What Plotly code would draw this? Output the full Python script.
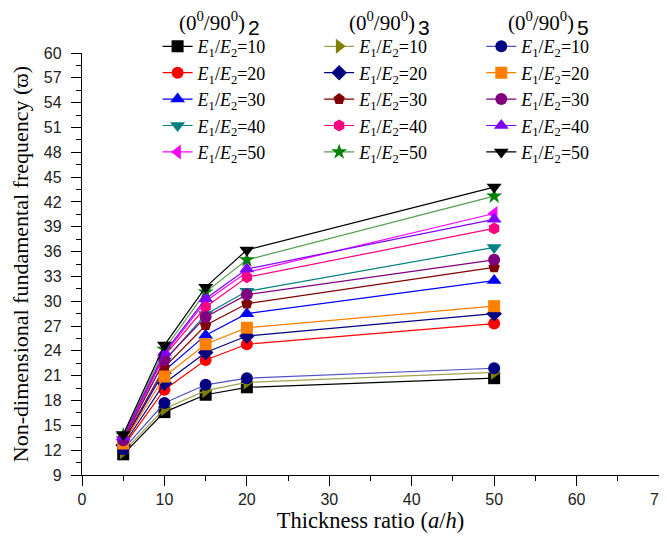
import plotly.graph_objects as go

x_ratio = [5, 10, 15, 20, 50]

# (0/90)2
L2_E10 = [11.5, 16.6, 18.7, 19.6, 20.7]
L2_E20 = [12.4, 19.3, 22.9, 24.8, 27.3]
L2_E30 = [12.9, 21.6, 25.9, 28.5, 32.5]
L2_E40 = [13.3, 22.8, 28.4, 31.2, 36.5]
L2_E50 = [13.6, 23.6, 30.0, 33.5, 40.6]
# (0/90)3
L3_E10 = [11.8, 17.0, 19.2, 20.2, 21.4]
L3_E20 = [12.6, 20.1, 23.8, 25.8, 28.5]
L3_E30 = [13.0, 22.0, 27.1, 29.7, 34.1]
L3_E40 = [13.4, 23.4, 29.3, 32.9, 38.8]
L3_E50 = [13.8, 24.2, 31.1, 35.0, 42.7]
# (0/90)5
L5_E10 = [12.1, 17.7, 19.9, 20.7, 21.9]
L5_E20 = [12.8, 20.9, 24.8, 26.8, 29.4]
L5_E30 = [13.2, 22.9, 28.1, 30.8, 35.0]
L5_E40 = [13.6, 23.8, 30.3, 33.9, 39.9]
L5_E50 = [13.9, 24.7, 31.7, 36.2, 43.8]

ratios = [10, 20, 30, 40, 50]
layer_counts = ["2", "3", "5"]
header_main = "(0<sup>0</sup>/90<sup>0</sup>)"

groups = [
    ("legend", [L2_E10, L2_E20, L2_E30, L2_E40, L2_E50],
     ["#000000", "#FF0000", "#0000FF", "#008080", "#FF00FF"],
     ["square", "circle", "triangle-up", "triangle-down", "triangle-left"]),
    ("legend2", [L3_E10, L3_E20, L3_E30, L3_E40, L3_E50],
     ["#808000", "#000080", "#800000", "#FF0080", "#008000"],
     ["triangle-right", "diamond", "pentagon", "hexagon", "star"]),
    ("legend3", [L5_E10, L5_E20, L5_E30, L5_E40, L5_E50],
     ["#000080", "#FF8000", "#800080", "#8000FF", "#000000"],
     ["circle", "square", "circle", "triangle-up", "triangle-down"]),
]
line_colors = {
    ("legend2", 0): "#a0a050", ("legend2", 4): "#50a050", ("legend3", 0): "#5050c0",
}

fig = go.Figure()
for gi, (leg, series, colors, symbols) in enumerate(groups):
    for i, (vals, col, sym) in enumerate(zip(series, colors, symbols)):
        lc = line_colors.get((leg, i), col)
        size = 13 if sym.startswith("triangle") else 12
        marker = dict(symbol=sym, size=size, color=col, line=dict(width=0))
        fig.add_trace(go.Scatter(
            x=x_ratio, y=vals, mode="lines+markers",
            name=f"<i>E</i><sub>1</sub>/<i>E</i><sub>2</sub>={ratios[i]}",
            line=dict(color=lc, width=1.2), marker=marker,
            legend=leg, legendgroup=f"{leg}_{i}",
        ))

serif = "Liberation Serif"
sans = "Liberation Sans"
leg_common = dict(font=dict(family=serif, size=18, color="#000"), bgcolor="rgba(0,0,0,0)",
                  traceorder="grouped", tracegroupgap=0, yanchor="top", xanchor="left",
                  itemwidth=30)
fig.update_layout(
    width=659, height=539,
    margin=dict(l=74, r=8, t=45, b=72, autoexpand=False),
    plot_bgcolor="white", paper_bgcolor="white",
    legend=dict(x=0.131, y=1.059, **leg_common),
    legend2=dict(x=0.411, y=1.059, **leg_common),
    legend3=dict(x=0.692, y=1.059, **leg_common),
    xaxis=dict(range=[0, 70], dtick=10, tick0=0, showgrid=False, zeroline=False,
               showline=True, linecolor="#000", linewidth=1.3, ticks="outside", ticklen=10,
               tickcolor="#000", tickfont=dict(family=sans, size=16, color="#222"),
               ticklabeloverflow="allow",
               minor=dict(dtick=5, ticks="outside", ticklen=5, tickcolor="#000"),
               title=dict(text="Thickness ratio (<i>a</i>/<i>h</i>)",
                          font=dict(family=serif, size=22.5, color="#000"), standoff=4)),
    yaxis=dict(range=[9, 60], dtick=3, tick0=9, showgrid=False, zeroline=False,
               showline=True, linecolor="#000", linewidth=1.3, ticks="outside", ticklen=10,
               tickcolor="#000", tickfont=dict(family=sans, size=16, color="#222"),
               ticklabelstandoff=6,
               minor=dict(dtick=1.5, ticks="outside", ticklen=5, tickcolor="#000"),
               title=dict(text="Non-dimensional fundamental frequency (ϖ)",
                          font=dict(family=serif, size=22, color="#000"), standoff=14)),
)
hx = [0.2856, 0.580, 0.856]
for n, px in zip(layer_counts, hx):
    fig.add_annotation(text=header_main, xref="paper", yref="paper",
                       x=px, y=1.0758, showarrow=False,
                       font=dict(family=serif, size=21, color="#000"), xanchor="right", yanchor="middle")
    fig.add_annotation(text=n, xref="paper", yref="paper",
                       x=px, y=1.060, showarrow=False, xshift=-1,
                       font=dict(family=sans, size=21, color="#000"), xanchor="left", yanchor="middle")

fig.write_html("out.html")
